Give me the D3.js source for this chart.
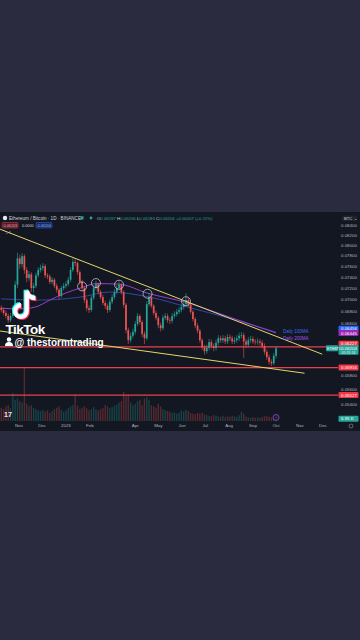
<!DOCTYPE html>
<html>
<head>
<meta charset="utf-8">
<script src="https://cdn.jsdelivr.net/npm/d3@7"></script>
<style>
  html, body { margin: 0; padding: 0; background: #2a2b3e; }
  svg { display: block; }
  text { font-family: "Liberation Sans", Arial, sans-serif; }
</style>
</head>
<body>
<svg id="chart" width="360" height="640"></svg>
<script>
/*********************/
/*** INIT VARIABLE ***/
/*********************/

// candles, one every 3 days from the start date
const candleStart = "2022-10-09", candleStepDays = 3;
const firstOpen = 0.0686;
const closes = [
  0.0682,0.0677,0.0672,0.0665,0.0672,0.0685,0.0726,0.0775,0.0764,0.0779,
  0.0753,0.0738,0.0745,0.0720,0.0724,0.0743,0.0753,0.0757,0.0760,0.0743,
  0.0741,0.0731,0.0735,0.0724,0.0717,0.0706,0.0720,0.0724,0.0727,0.0735,
  0.0753,0.0768,0.0766,0.0749,0.0731,0.0720,0.0699,0.0685,0.0682,0.0703,
  0.0720,0.0727,0.0713,0.0704,0.0694,0.0689,0.0682,0.0696,0.0704,0.0713,
  0.0720,0.0726,0.0713,0.0691,0.0649,0.0633,0.0640,0.0646,0.0659,0.0672,
  0.0662,0.0643,0.0636,0.0692,0.0704,0.0689,0.0677,0.0669,0.0657,0.0652,
  0.0669,0.0672,0.0665,0.0664,0.0672,0.0675,0.0679,0.0682,0.0687,0.0692,
  0.0699,0.0691,0.0679,0.0667,0.0656,0.0648,0.0633,0.0622,0.0616,0.0621,
  0.0630,0.0624,0.0621,0.0629,0.0636,0.0633,0.0636,0.0631,0.0638,0.0636,
  0.0631,0.0633,0.0636,0.0640,0.0641,0.0631,0.0626,0.0633,0.0635,0.0631,
  0.0630,0.0631,0.0629,0.0624,0.0615,0.0607,0.0600,0.0598,0.0609,0.06204
];
const highs = [
  0.0690,0.0686,0.0681,0.0676,0.0677,0.0690,0.0733,0.0786,0.0782,0.0785,
  0.0783,0.0758,0.0751,0.0749,0.0729,0.0748,0.0758,0.0763,0.0766,0.0764,
  0.0747,0.0745,0.0740,0.0738,0.0728,0.0720,0.0724,0.0729,0.0732,0.0740,
  0.0758,0.0775,0.0773,0.0769,0.0752,0.0735,0.0723,0.0703,0.0690,0.0707,
  0.0725,0.0733,0.0730,0.0717,0.0708,0.0698,0.0693,0.0700,0.0709,0.0718,
  0.0725,0.0732,0.0729,0.0716,0.0694,0.0653,0.0645,0.0651,0.0664,0.0677,
  0.0675,0.0665,0.0647,0.0697,0.0711,0.0708,0.0692,0.0681,0.0672,0.0661,
  0.0674,0.0677,0.0676,0.0669,0.0677,0.0680,0.0684,0.0687,0.0692,0.0697,
  0.0711,0.0704,0.0694,0.0682,0.0670,0.0660,0.0651,0.0636,0.0626,0.0626,
  0.0635,0.0634,0.0628,0.0634,0.0641,0.0640,0.0641,0.0640,0.0643,0.0642,
  0.0640,0.0638,0.0641,0.0645,0.0646,0.0645,0.0635,0.0638,0.0640,0.0639,
  0.0635,0.0636,0.0635,0.0633,0.0628,0.0619,0.0611,0.0604,0.0613,0.0624
];
const lows = [
  0.0678,0.0673,0.0668,0.0661,0.0662,0.0669,0.0682,0.0720,0.0755,0.0758,
  0.0746,0.0730,0.0733,0.0713,0.0712,0.0720,0.0739,0.0748,0.0751,0.0738,
  0.0736,0.0727,0.0727,0.0720,0.0712,0.0700,0.0703,0.0716,0.0719,0.0723,
  0.0731,0.0749,0.0760,0.0744,0.0727,0.0715,0.0694,0.0680,0.0677,0.0679,
  0.0699,0.0716,0.0709,0.0700,0.0690,0.0684,0.0677,0.0679,0.0692,0.0700,
  0.0709,0.0716,0.0709,0.0686,0.0644,0.0627,0.0629,0.0636,0.0642,0.0655,
  0.0658,0.0638,0.0627,0.0633,0.0688,0.0685,0.0673,0.0665,0.0652,0.0647,
  0.0649,0.0665,0.0661,0.0659,0.0660,0.0668,0.0671,0.0675,0.0678,0.0683,
  0.0688,0.0687,0.0675,0.0663,0.0652,0.0644,0.0629,0.0618,0.0611,0.0612,
  0.0617,0.0620,0.0616,0.0617,0.0625,0.0629,0.0629,0.0627,0.0627,0.0632,
  0.0627,0.0627,0.0629,0.0632,0.0636,0.0606,0.0621,0.0622,0.0629,0.0627,
  0.0626,0.0626,0.0625,0.0620,0.0611,0.0603,0.0596,0.0594,0.0595,0.0605
];
const volumes = [
  50,45,55,60,48,105,80,85,75,70,
  200,65,55,60,50,45,40,38,42,35,
  40,30,38,45,50,55,42,35,40,48,
  55,60,100,58,45,50,55,48,40,45,
  52,44,40,45,50,60,55,48,52,58,
  62,70,75,110,95,100,70,60,65,75,
  80,60,85,90,80,60,55,50,65,55,
  45,40,38,35,30,32,28,30,40,35,
  42,38,30,28,25,30,28,32,25,22,
  20,18,22,20,18,16,20,15,18,16,
  20,18,15,22,35,28,16,14,12,15,
  12,14,12,15,18,20,16,14,18,12
];

// moving averages, read at a few dates
const ma100Dates  = ["2022-10-09","2022-11-28","2023-01-19","2023-02-27","2023-04-20","2023-06-08","2023-08-02","2023-10-01"];
const ma100Values = [0.0701,0.0699,0.0704,0.0713,0.0704,0.0687,0.0668,0.06456];
const ma200Dates  = ["2022-10-09","2022-11-02","2022-11-22","2022-12-11","2022-12-31","2023-01-22","2023-02-09","2023-03-11","2023-04-17","2023-06-06","2023-08-02","2023-10-01"];
const ma200Values = [0.0685,0.0684,0.0687,0.0699,0.0711,0.0721,0.0728,0.0727,0.0711,0.0695,0.0670,0.06445];

// drawn marks
const circleDates  = ["2023-01-22","2023-02-09","2023-03-11","2023-04-17","2023-06-06"];
const circlePrices = [0.0723,0.0729,0.0726,0.0710,0.0697];
const upperTrendDates  = ["2022-10-07","2023-11-30"];
const upperTrendPrices = [0.0833,0.06115];
const lowerTrendDates  = ["2022-10-07","2023-11-07"];
const lowerTrendPrices = [0.06476,0.05834];
const levels = [0.06227,0.05916,0.05527];

// axes
const priceTicks  = [0.084,0.082,0.080,0.078,0.076,0.074,0.072,0.070,0.068,0.066,0.058,0.056,0.054];
const monthTicks  = ["2022-11-01","2022-12-01","2023-01-01","2023-02-01","2023-04-01","2023-05-01","2023-06-01","2023-07-01","2023-08-01","2023-09-01","2023-10-01","2023-11-01","2023-12-01"];
const monthLabels = ["Nov","Dec","2023","Feb","Apr","May","Jun","Jul","Aug","Sep","Oct","Nov","Dec"];

const up = "#26a69a", down = "#ef5350";
const parse = d3.utcParse("%Y-%m-%d");

let panel = {top: 212, bottom: 431},
    plot  = {left: 0, right: 338, top: 222, volBase: 421};

let svg = d3.select("#chart");

// scales
let x = d3.scaleUtc().domain([parse("2022-11-01"), parse("2023-12-01")]).range([19, 323]),
    y = d3.scaleLog().domain([0.084, 0.066]).range([225.7, 323.3]),
    v = d3.scaleLinear().domain([0, 200]).range([plot.volBase, 368]);

let candles = closes.map((c, i) => ({
    date: d3.utcDay.offset(parse(candleStart), i * candleStepDays),
    open: i ? closes[i - 1] : firstOpen,
    high: highs[i], low: lows[i], close: c, volume: volumes[i]
}));

/********************************/
/*** DECLARE HELPER FUNCTIONS ***/
/********************************/

function pairs(dates, vals) {
    return dates.map((d, i) => ({date: parse(d), v: vals[i]}));
}

function priceLabel(price, yPos, fill, txt) {
    let g = svg.append("g");
    g.append("rect").attr("x", 338.5).attr("y", yPos - 3).attr("width", 20).attr("height", 6)
        .attr("rx", 1).attr("fill", fill);
    g.append("text").attr("x", 341).attr("y", yPos + 1.6).attr("font-size", 4.4)
        .attr("fill", "#fff").text(txt || d3.format(".5f")(price));
    return g;
}

/******************/
/*** INIT PLOTS ***/
/******************/

svg.append("rect").attr("width", 360).attr("height", 640).attr("fill", "#2a2b3e");
svg.append("rect").attr("x", 0).attr("y", panel.top).attr("width", 360)
    .attr("height", panel.bottom - panel.top).attr("fill", "#131722");

svg.append("clipPath").attr("id", "clip").append("rect")
    .attr("x", plot.left).attr("y", plot.top).attr("width", plot.right - plot.left)
    .attr("height", plot.volBase - plot.top + 2);
let g = svg.append("g").attr("clip-path", "url(#clip)");

// horizontal levels
g.selectAll(".level").data(levels).join("line")
    .attr("x1", plot.left).attr("x2", plot.right)
    .attr("y1", d => y(d)).attr("y2", d => y(d))
    .attr("stroke", "#e8414f").attr("stroke-width", 1.1);

// volume
g.selectAll(".vol").data(candles).join("rect")
    .attr("x", d => x(d.date) - 0.7).attr("width", 1.4)
    .attr("y", d => v(d.volume)).attr("height", d => plot.volBase - v(d.volume))
    .attr("fill", d => d.close >= d.open ? up : down).attr("opacity", 0.3);

// moving averages
let maLine = d3.line().x(d => x(d.date)).y(d => y(d.v)).curve(d3.curveMonotoneX);
g.append("path").datum(pairs(ma100Dates, ma100Values)).attr("d", maLine)
    .attr("fill", "none").attr("stroke", "#3a55d0").attr("stroke-width", 0.9).attr("opacity", 0.85);
g.append("path").datum(pairs(ma200Dates, ma200Values)).attr("d", maLine)
    .attr("fill", "none").attr("stroke", "#9a3fcc").attr("stroke-width", 1);

// candles
g.selectAll(".wick").data(candles).join("line")
    .attr("x1", d => x(d.date)).attr("x2", d => x(d.date))
    .attr("y1", d => y(d.high)).attr("y2", d => y(d.low))
    .attr("stroke", d => d.close >= d.open ? up : down).attr("stroke-width", 0.6);
g.selectAll(".body").data(candles).join("rect")
    .attr("x", d => x(d.date) - 0.85).attr("width", 1.7)
    .attr("y", d => y(Math.max(d.open, d.close)))
    .attr("height", d => Math.max(0.6, Math.abs(y(d.open) - y(d.close))))
    .attr("fill", d => d.close >= d.open ? up : down);

// trend lines
[[upperTrendDates, upperTrendPrices], [lowerTrendDates, lowerTrendPrices]].forEach(t => {
    let p = pairs(t[0], t[1]);
    g.append("line")
        .attr("x1", x(p[0].date)).attr("y1", y(p[0].v))
        .attr("x2", x(p[1].date)).attr("y2", y(p[1].v))
        .attr("stroke", "#e3d66a").attr("stroke-width", 1);
});

// circles
g.selectAll(".mark").data(pairs(circleDates, circlePrices)).join("circle")
    .attr("cx", d => x(d.date)).attr("cy", d => y(d.v)).attr("r", 4.5)
    .attr("fill", "none").attr("stroke", "#dcdce4").attr("stroke-width", 0.8).attr("opacity", 0.85);

// MA notes
svg.append("text").attr("x", 283).attr("y", 332.5).attr("font-size", 4.5)
    .attr("fill", "#4566f0").text("Daily 100MA");
svg.append("text").attr("x", 283).attr("y", 339.8).attr("font-size", 4.5)
    .attr("fill", "#a455e0").text("Daily 200MA");

// price axis
svg.selectAll(".ptick").data(priceTicks).join("text")
    .attr("x", 341).attr("y", d => y(d) + 1.6).attr("font-size", 4.4)
    .attr("fill", "#b2b5be").text(d => d3.format(".5f")(d));

priceLabel(0.06456, y(0.06456) - 3.5, "#2962ff");
priceLabel(0.06445, y(0.06445), "#9c27b0");
priceLabel(0.06227, y(0.06227) - 3, "#f23645");
let last = priceLabel(0.06204, y(0.06204), up);
last.select("rect").attr("height", 9.5);
last.append("text").attr("x", 341.5).attr("y", y(0.06204) + 5.6).attr("font-size", 3.6)
    .attr("fill", "#e0f2ef").text("05:31:16");
priceLabel(0.05916, y(0.05916), "#f23645");
priceLabel(0.05527, y(0.05527), "#f23645");
priceLabel(0, 418.7, up, "6.95 K");

// symbol tag on the last price
svg.append("rect").attr("x", 326).attr("y", y(0.06204) - 3).attr("width", 12).attr("height", 6)
    .attr("rx", 1).attr("fill", up);
svg.append("text").attr("x", 327).attr("y", y(0.06204) + 1.5).attr("font-size", 3.6)
    .attr("fill", "#fff").text("ETHBTC");

// time axis
svg.selectAll(".ttick").data(monthTicks).join("text")
    .attr("x", d => x(parse(d))).attr("y", 427.4).attr("text-anchor", "middle")
    .attr("font-size", 4.4).attr("fill", "#b2b5be")
    .text((d, i) => monthLabels[i]);

/*****************/
/*** header ***/
/*****************/

svg.append("circle").attr("cx", 5).attr("cy", 218).attr("r", 2.2).attr("fill", "#e8e8ee");
svg.append("text").attr("x", 9).attr("y", 219.6).attr("font-size", 4.6).attr("fill", "#d1d4dc")
    .text("Ethereum / Bitcoin · 1D · BINANCE");
svg.append("rect").attr("x", 80.5).attr("y", 216.3).attr("width", 3).attr("height", 3.2).attr("fill", up);
svg.append("circle").attr("cx", 91).attr("cy", 218).attr("r", 1.4).attr("fill", up);

let ohlc = svg.append("text").attr("x", 97).attr("y", 219.6).attr("font-size", 4.3);
[["O", "0.06197"], ["H", "0.06206"], ["L", "0.06183"], ["C", "0.06204"]].forEach(p => {
    ohlc.append("tspan").attr("fill", "#d1d4dc").text(p[0]);
    ohlc.append("tspan").attr("fill", up).text(p[1] + " ");
});
ohlc.append("tspan").attr("fill", up).text("+0.00007 (+0.11%)");

svg.append("rect").attr("x", 2).attr("y", 222.5).attr("width", 16).attr("height", 5.5).attr("rx", 1)
    .attr("fill", "rgba(242,54,69,0.25)").attr("stroke", "#f23645").attr("stroke-width", 0.5);
svg.append("text").attr("x", 3.5).attr("y", 226.6).attr("font-size", 3.8).attr("fill", "#f7a0a8").text("0.06203");
svg.append("text").attr("x", 22).attr("y", 226.6).attr("font-size", 3.8).attr("fill", "#d1d4dc").text("0.0000");
svg.append("rect").attr("x", 36).attr("y", 222.5).attr("width", 16).attr("height", 5.5).attr("rx", 1)
    .attr("fill", "rgba(41,98,255,0.25)").attr("stroke", "#2962ff").attr("stroke-width", 0.5);
svg.append("text").attr("x", 37.5).attr("y", 226.6).attr("font-size", 3.8).attr("fill", "#8fb0ff").text("0.06204");
svg.append("text").attr("x", 5).attr("y", 234).attr("font-size", 3.8).attr("fill", "#b2b5be").text("⌄ 1");

svg.append("rect").attr("x", 342).attr("y", 215.5).attr("width", 15).attr("height", 5.5).attr("rx", 1)
    .attr("fill", "#1e222d");
svg.append("text").attr("x", 344).attr("y", 219.6).attr("font-size", 4.2).attr("fill", "#d1d4dc").text("BTC ⌄");

// bottom icons
svg.append("text").attr("x", 4).attr("y", 416.5).attr("font-size", 7).attr("font-weight", "bold")
    .attr("fill", "#e8e8ee").text("17");
svg.append("circle").attr("cx", 276).attr("cy", 417.5).attr("r", 3).attr("fill", "#1b1730")
    .attr("stroke", "#9c5ce0").attr("stroke-width", 0.7);
svg.append("text").attr("x", 276).attr("y", 419).attr("text-anchor", "middle").attr("font-size", 4)
    .attr("fill", "#c9a6f0").text("↑");
svg.append("circle").attr("cx", 351).attr("cy", 426).attr("r", 2).attr("fill", "none")
    .attr("stroke", "#9598a1").attr("stroke-width", 0.6);

/*****************/
/*** tiktok overlay ***/
/*****************/

let note = "M13,17 L13,3 M13,3 Q14,8 19,8 M13,17 A4,4 0 1 1 9,13";
let logo = svg.append("g").attr("transform", "translate(7.9,286.4) scale(1.45)")
    .attr("fill", "none").attr("stroke-width", 3).attr("stroke-linecap", "butt");
logo.append("path").attr("d", note).attr("stroke", "#25f4ee").attr("transform", "translate(-0.7,-0.7)");
logo.append("path").attr("d", note).attr("stroke", "#fe2c55").attr("transform", "translate(0.7,0.7)");
logo.append("path").attr("d", note).attr("stroke", "#ffffff");

svg.append("text").attr("x", 5.5).attr("y", 333.5).attr("font-size", 13.5).attr("font-weight", "bold")
    .attr("letter-spacing", -0.5).attr("fill", "#fff")
    .attr("stroke", "rgba(0,0,0,0.35)").attr("stroke-width", 0.4).attr("paint-order", "stroke")
    .text("TikTok");

let person = svg.append("g").attr("fill", "#fff");
person.append("circle").attr("cx", 9).attr("cy", 339.5).attr("r", 2.2);
person.append("path").attr("d", "M5,346 Q5,342 9,342 Q13,342 13,346 Z");
svg.append("text").attr("x", 14.5).attr("y", 346).attr("font-size", 10).attr("font-weight", "bold")
    .attr("fill", "#fff").attr("stroke", "rgba(0,0,0,0.35)").attr("stroke-width", 0.4)
    .attr("paint-order", "stroke").text("@ thestormtrading");
</script>
</body>
</html>
